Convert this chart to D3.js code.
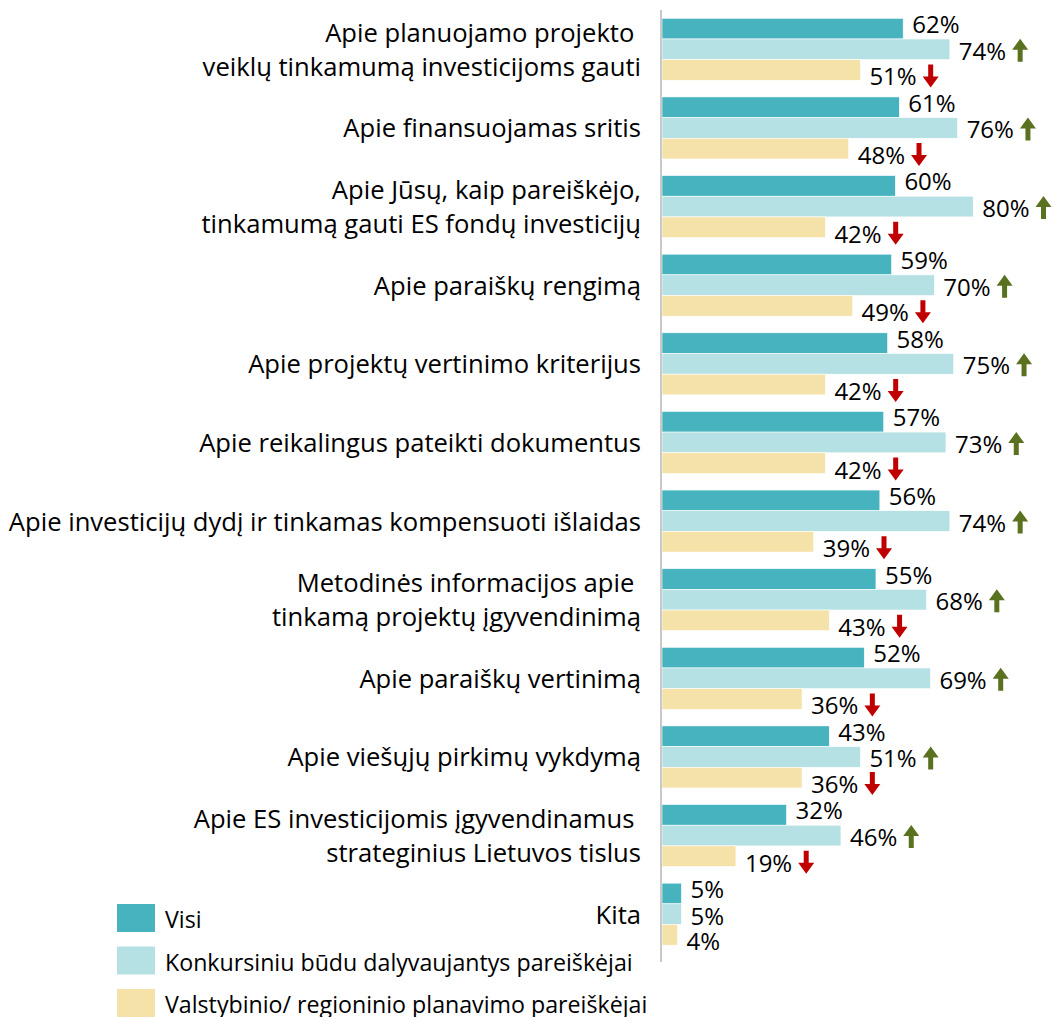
<!DOCTYPE html>
<html>
<head>
<meta charset="utf-8">
<script src="https://cdn.jsdelivr.net/npm/d3@7"></script>
<style>
  html, body { margin: 0; padding: 0; background: #fff; }
  svg text { font-family: "Open Sans", sans-serif; fill: #000; white-space: pre; }
</style>
</head>
<body>
<svg id="chart" width="1053" height="1017"></svg>
<script>
// ---- data ----
const categories = [
  ["Apie planuojamo projekto ", "veiklų tinkamumą investicijoms gauti"],
  ["Apie finansuojamas sritis"],
  ["Apie Jūsų, kaip pareiškėjo,", "tinkamumą gauti ES fondų investicijų"],
  ["Apie paraiškų rengimą"],
  ["Apie projektų vertinimo kriterijus"],
  ["Apie reikalingus pateikti dokumentus"],
  ["Apie investicijų dydį ir tinkamas kompensuoti išlaidas"],
  ["Metodinės informacijos apie ", "tinkamą projektų įgyvendinimą"],
  ["Apie paraiškų vertinimą"],
  ["Apie viešųjų pirkimų vykdymą"],
  ["Apie ES investicijomis įgyvendinamus ", "strateginius Lietuvos tislus"],
  ["Kita"]
];
const seriesNames = ["Visi", "Konkursiniu būdu dalyvaujantys pareiškėjai", "Valstybinio/ regioninio planavimo pareiškėjai"];
const visi   = [62, 61, 60, 59, 58, 57, 56, 55, 52, 43, 32, 5];
const konk   = [74, 76, 80, 70, 75, 73, 74, 68, 69, 51, 46, 5];
const valst  = [51, 48, 42, 49, 42, 42, 39, 43, 36, 36, 19, 4];
// significance arrows: "up", "down" or null
const visiTrend  = [null, null, null, null, null, null, null, null, null, null, null, null];
const konkTrend  = ["up", "up", "up", "up", "up", "up", "up", "up", "up", "up", "up", null];
const valstTrend = ["down", "down", "down", "down", "down", "down", "down", "down", "down", "down", "down", null];
const colors = ["#47b3bf", "#b5e1e4", "#f5e2a9"];
const arrowColors = { up: "#5a7120", down: "#c00000" };

// ---- layout ----
const svg = d3.select("#chart");
const axisX = 661;
const x = d3.scaleLinear().domain([0, 100]).range([662, 1051]);
const y = d3.scaleBand().domain(d3.range(categories.length)).range([10, 953.5]).paddingInner(0.211).paddingOuter(0.1055);
const ySub = d3.scaleBand().domain([0, 1, 2]).range([0, y.bandwidth()]);

const series = [visi, konk, valst];
const trends = [visiTrend, konkTrend, valstTrend];
const labelShift = [-5, 1, 6];

const rows = [];
categories.forEach((c, i) => {
  series.forEach((s, k) => rows.push({ i, k, v: s[i], t: trends[k][i] }));
});

// bars
svg.append("g").selectAll("rect").data(rows).join("rect")
  .attr("x", x(0))
  .attr("y", d => y(d.i) + ySub(d.k))
  .attr("width", d => x(d.v) - x(0))
  .attr("height", ySub.bandwidth())
  .attr("fill", d => colors[d.k])
  .attr("stroke", "#fff").attr("stroke-width", 0.6);

// axis line
svg.append("line").attr("x1", axisX).attr("x2", axisX).attr("y1", 10).attr("y2", 962)
  .attr("stroke", "#c9c9c9").attr("stroke-width", 2);

// value labels
const lbl = svg.append("g").selectAll("g").data(rows).join("g")
  .attr("transform", d => `translate(${x(d.v) + 9},${y(d.i) + ySub(d.k) + ySub.bandwidth() / 2 + labelShift[d.k]})`);
lbl.append("text")
  .attr("dominant-baseline", "central")
  .style("font-size", "24px")
  .text(d => d.v + "%");
lbl.each(function (d) {
  if (!d.t) return;
  const g = d3.select(this);
  const w = g.select("text").node().getComputedTextLength();
  const ax = w + 6, aw = 16, ah = 23, hh = 11, sw = 5;
  let pts;
  if (d.t === "up") {
    pts = [[ax + aw / 2, -ah / 2], [ax + aw, -ah / 2 + hh], [ax + aw / 2 + sw / 2, -ah / 2 + hh], [ax + aw / 2 + sw / 2, ah / 2],
           [ax + aw / 2 - sw / 2, ah / 2], [ax + aw / 2 - sw / 2, -ah / 2 + hh], [ax, -ah / 2 + hh]];
  } else {
    pts = [[ax + aw / 2, ah / 2], [ax + aw, ah / 2 - hh], [ax + aw / 2 + sw / 2, ah / 2 - hh], [ax + aw / 2 + sw / 2, -ah / 2],
           [ax + aw / 2 - sw / 2, -ah / 2], [ax + aw / 2 - sw / 2, ah / 2 - hh], [ax, ah / 2 - hh]];
  }
  g.append("path").attr("d", "M" + pts.map(p => p.join(",")).join("L") + "Z").attr("fill", arrowColors[d.t]);
});

// category labels
const cat = svg.append("g").selectAll("text").data(categories).join("text")
  .attr("text-anchor", "end")
  .style("font-size", "25.6px")
  .attr("transform", (d, i) => `translate(641,${y(i) + y.bandwidth() / 2})`);
cat.selectAll("tspan").data(d => d.map((t, j) => ({ t, j, n: d.length }))).join("tspan")
  .attr("x", 0)
  .attr("y", d => (d.j - (d.n - 1) / 2) * 34)
  .attr("dominant-baseline", "central")
  .text(d => d.t);

// legend
const leg = svg.append("g").selectAll("g").data(seriesNames).join("g")
  .attr("transform", (d, i) => `translate(117,${904 + i * 42.5})`);
leg.append("rect").attr("width", 38).attr("height", 28).attr("fill", (d, i) => colors[i]);
leg.append("text").attr("x", 48).attr("y", 15).attr("dominant-baseline", "central")
  .style("font-size", "23.2px").text(d => d);
</script>
</body>
</html>
